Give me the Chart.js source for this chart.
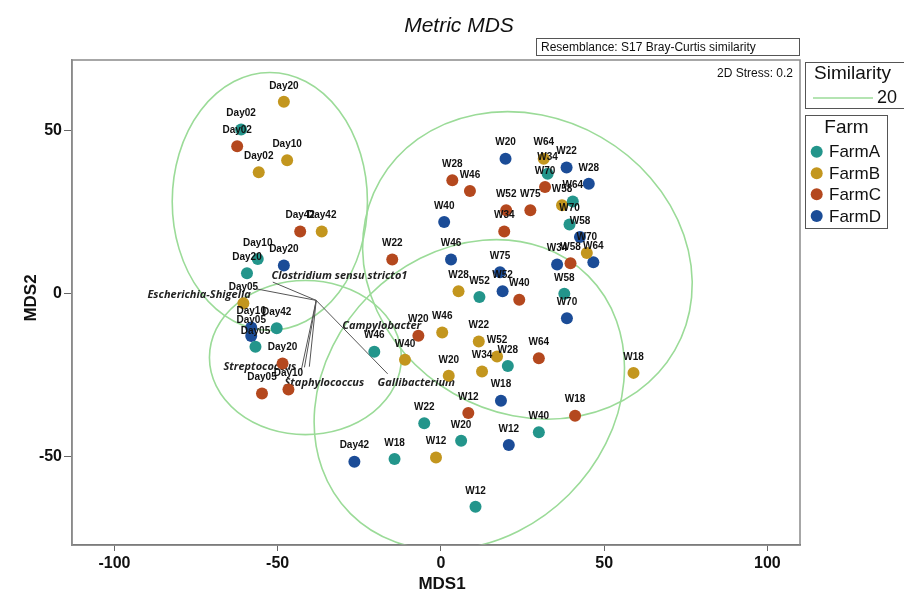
<!DOCTYPE html>
<html>
<head>
<meta charset="utf-8">
<script src="https://cdn.jsdelivr.net/npm/chart.js@4.4.1/dist/chart.umd.min.js"></script>
<style>
html, body { margin: 0; padding: 0; background: #fff; }
</style>
</head>
<body>
<canvas id="mdsChart" width="904" height="594"></canvas>
<script>
// MDS coordinates, one set of arrays per farm
const farmNames = ['FarmA', 'FarmB', 'FarmC', 'FarmD'];
const farmColors = ['#23958b', '#c3961e', '#b4481e', '#1b4c97'];

const farmA_x = [-61.2, -56.1, -59.4, -50.3, -56.8, -20.4, 11.8, 20.5, -5.1, 6.2, 30.0, -14.2, 10.6, 32.7, 40.4, 39.4, 37.8];
const farmA_y = [50.2, 10.6, 6.2, -10.6, -16.3, -17.8, -1.1, -22.2, -39.7, -45.1, -42.5, -50.7, -65.3, 36.7, 28.2, 21.1, -0.1];
const farmA_labels = ['Day02', 'Day10', 'Day20', 'Day42', 'Day05', 'W46', 'W52', 'W28', 'W22', 'W20', 'W40', 'W18', 'W12', 'W34', 'W64', 'W70', 'W58'];

const farmB_x = [-48.1, -47.1, -55.8, -36.5, -60.5, 31.5, 37.1, 44.7, 5.4, 0.4, -11.0, 11.6, 17.2, 12.6, 2.4, 59.0, -1.5];
const farmB_y = [58.7, 40.8, 37.1, 19.0, -3.0, 41.3, 27.0, 12.4, 0.7, -11.9, -20.3, -14.7, -19.3, -23.9, -25.2, -24.3, -50.2];
const farmB_labels = ['Day20', 'Day10', 'Day02', 'Day42', 'Day05', 'W64', 'W58', 'W70', 'W28', 'W46', 'W40', 'W22', 'W52', 'W34', 'W20', 'W18', 'W12'];

const farmC_x = [-62.4, -43.1, -48.5, -54.8, -46.7, -14.9, 3.5, 8.9, 20.0, 27.4, 19.4, 31.9, 39.7, 24.0, -6.9, 30.0, 8.4, 41.1];
const farmC_y = [45.1, 19.0, -21.4, -30.6, -29.4, 10.4, 34.7, 31.4, 25.5, 25.5, 19.0, 32.6, 9.3, -1.9, -12.9, -19.8, -36.6, -37.4];
const farmC_labels = ['Day02', 'Day42', 'Day20', 'Day05', 'Day10', 'W22', 'W28', 'W46', 'W52', 'W75', 'W34', 'W70', 'W58', 'W40', 'W20', 'W64', 'W12', 'W18'];

const farmD_x = [-48.1, -58.1, -58.1, -26.5, 19.8, 38.5, 45.3, 1.0, 3.1, 18.1, 18.9, 42.6, 46.7, 35.6, 38.6, 18.4, 20.8];
const farmD_y = [8.6, -10.4, -13.0, -51.5, 41.3, 38.6, 33.6, 21.9, 10.4, 6.5, 0.7, 17.3, 9.6, 8.9, -7.6, -32.8, -46.4];
const farmD_labels = ['Day20', 'Day10', 'Day05', 'Day42', 'W20', 'W22', 'W28', 'W40', 'W46', 'W75', 'W52', 'W58', 'W64', 'W34', 'W70', 'W18', 'W12'];

// 20% similarity contours (centre, semi axes in MDS units, tilt in degrees)
const contour_cx = [-52.4, -41.5, 26.5, 8.7];
const contour_cy = [28.2, -19.6, 8.6, -31.0];
const contour_a = [29.9, 29.4, 52.1, 51.5];
const contour_b = [39.5, 23.6, 45.3, 43.2];
const contour_tilt = [0, 0, 30, -45];

// taxa vectors
const vector_origin = [-38.2, -2.1];
const taxa_names = ['Clostridium sensu stricto1', 'Escherichia-Shigella', 'Campylobacter', 'Streptococcus', 'Staphylococcus', 'Gallibacterium'];
const taxa_end_x = [-51.5, -56.4, -40.3, -42.8, -41.8, -16.3];
const taxa_end_y = [3.5, 1.4, -22.4, -23.6, -22.6, -24.6];
const taxa_label_x = [-51.9, -89.9, -30.2, -66.6, -47.9, -19.4];
const taxa_label_y = [5.5, -0.3, -9.8, -22.4, -27.3, -27.3];

const x_ticks = [-100, -50, 0, 50, 100];
const y_ticks = [-50, 0, 50];

const farm_x = [farmA_x, farmB_x, farmC_x, farmD_x];
const farm_y = [farmA_y, farmB_y, farmC_y, farmD_y];
const farm_labels = [farmA_labels, farmB_labels, farmC_labels, farmD_labels];

const FONT = '"Liberation Sans", Arial, sans-serif';

const mdsDecor = {
    id: 'mdsDecor',
    beforeDatasetsDraw(chart) {
        const ctx = chart.ctx;
        const area = chart.chartArea;
        const xs = chart.scales.x;
        const ys = chart.scales.y;
        const unit = Math.abs(xs.getPixelForValue(1) - xs.getPixelForValue(0));

        ctx.save();
        ctx.beginPath();
        ctx.rect(area.left, area.top, area.right - area.left, area.bottom - area.top);
        ctx.clip();

        ctx.strokeStyle = '#9bdb98';
        ctx.lineWidth = 1.6;
        for (let i = 0; i < contour_cx.length; i++) {
            ctx.beginPath();
            ctx.ellipse(xs.getPixelForValue(contour_cx[i]), ys.getPixelForValue(contour_cy[i]),
                contour_a[i] * unit, contour_b[i] * unit, contour_tilt[i] * Math.PI / 180, 0, 2 * Math.PI);
            ctx.stroke();
        }

        ctx.strokeStyle = '#555';
        ctx.lineWidth = 1;
        const ox = xs.getPixelForValue(vector_origin[0]);
        const oy = ys.getPixelForValue(vector_origin[1]);
        for (let i = 0; i < taxa_names.length; i++) {
            ctx.beginPath();
            ctx.moveTo(ox, oy);
            ctx.lineTo(xs.getPixelForValue(taxa_end_x[i]), ys.getPixelForValue(taxa_end_y[i]));
            ctx.stroke();
        }

        ctx.fillStyle = '#222';
        ctx.font = 'italic bold 11px "Open Sans", sans-serif';
        ctx.textAlign = 'left';
        ctx.textBaseline = 'middle';
        for (let i = 0; i < taxa_names.length; i++) {
            ctx.fillText(taxa_names[i], xs.getPixelForValue(taxa_label_x[i]), ys.getPixelForValue(taxa_label_y[i]));
        }
        ctx.restore();
    },
    afterDatasetsDraw(chart) {
        const ctx = chart.ctx;
        const xs = chart.scales.x;
        const ys = chart.scales.y;
        ctx.save();
        ctx.fillStyle = '#111';
        ctx.font = 'bold 10px ' + FONT;
        ctx.textAlign = 'center';
        ctx.textBaseline = 'middle';
        for (let f = 0; f < farmNames.length; f++) {
            for (let i = 0; i < farm_labels[f].length; i++) {
                ctx.fillText(farm_labels[f][i], xs.getPixelForValue(farm_x[f][i]), ys.getPixelForValue(farm_y[f][i]) - 16);
            }
        }
        ctx.restore();
    },
    afterDraw(chart) {
        const ctx = chart.ctx;
        const area = chart.chartArea;
        ctx.save();

        // plot frame
        ctx.strokeStyle = '#8a8a8a';
        ctx.lineWidth = 1.5;
        ctx.strokeRect(area.left, area.top, area.right - area.left, area.bottom - area.top);

        // title
        ctx.fillStyle = '#111';
        ctx.font = 'italic 21px ' + FONT;
        ctx.textAlign = 'center';
        ctx.textBaseline = 'alphabetic';
        ctx.fillText('Metric MDS', 459, 32);

        // resemblance box
        ctx.strokeStyle = '#555';
        ctx.lineWidth = 1;
        ctx.strokeRect(536.5, 38.5, 263, 17);
        ctx.font = '12px ' + FONT;
        ctx.textAlign = 'left';
        ctx.textBaseline = 'middle';
        ctx.fillText('Resemblance: S17 Bray-Curtis similarity', 541, 47.5);

        // stress
        ctx.textAlign = 'right';
        ctx.fillText('2D Stress: 0.2', 793, 74);

        // axis titles
        ctx.font = 'bold 17px ' + FONT;
        ctx.textAlign = 'center';
        ctx.fillText('MDS1', 442, 584);
        ctx.save();
        ctx.translate(31, 298);
        ctx.rotate(-Math.PI / 2);
        ctx.fillText('MDS2', 0, 0);
        ctx.restore();

        // similarity legend
        ctx.strokeStyle = '#555';
        ctx.strokeRect(805.5, 62.5, 110, 46);
        ctx.font = '19px ' + FONT;
        ctx.textAlign = 'left';
        ctx.fillText('Similarity', 814, 74);
        ctx.strokeStyle = '#9bdb98';
        ctx.lineWidth = 1.6;
        ctx.beginPath();
        ctx.moveTo(813, 98);
        ctx.lineTo(873, 98);
        ctx.stroke();
        ctx.font = '18px ' + FONT;
        ctx.fillText('20', 877, 98);

        // farm legend
        ctx.strokeStyle = '#555';
        ctx.lineWidth = 1;
        ctx.strokeRect(805.5, 115.5, 82, 113);
        ctx.font = '19px ' + FONT;
        ctx.textAlign = 'center';
        ctx.fillText('Farm', 846.5, 128);
        const rows = [151.7, 173.3, 194.3, 216];
        ctx.font = '17px ' + FONT;
        ctx.textAlign = 'left';
        for (let f = 0; f < farmNames.length; f++) {
            ctx.fillStyle = farmColors[f];
            ctx.beginPath();
            ctx.arc(816.7, rows[f], 6, 0, 2 * Math.PI);
            ctx.fill();
            ctx.fillStyle = '#111';
            ctx.fillText(farmNames[f], 829, rows[f] + 1);
        }
        ctx.restore();
    }
};

function make_datasets() {
    let sets = [];
    for (let f = 0; f < farmNames.length; f++) {
        sets.push({
            label: farmNames[f],
            data: farm_x[f].map((x, i) => ({x: x, y: farm_y[f][i]})),
            backgroundColor: farmColors[f],
            borderColor: farmColors[f],
            borderWidth: 0,
            pointRadius: 6,
            pointHoverRadius: 6
        });
    }
    return sets;
}

window.addEventListener('load', function () {
    const ctx = document.getElementById('mdsChart').getContext('2d');
    new Chart(ctx, {
        type: 'scatter',
        data: {datasets: make_datasets()},
        options: {
            responsive: false,
            animation: false,
            layout: {padding: {top: 60, right: 104, left: 0, bottom: 0}},
            plugins: {
                legend: {display: false},
                tooltip: {enabled: false},
                title: {display: false}
            },
            scales: {
                x: {
                    type: 'linear',
                    min: -113,
                    max: 110,
                    afterBuildTicks: s => { s.ticks = x_ticks.map(v => ({value: v})); },
                    afterFit: s => { s.height = 49; },
                    grid: {display: true, drawOnChartArea: false, drawTicks: true, tickLength: 6, color: '#666'},
                    border: {display: true, color: '#555', width: 1.5},
                    ticks: {
                        color: '#111',
                        padding: 3,
                        maxRotation: 0,
                        font: {family: FONT, size: 16, weight: 'bold'}
                    }
                },
                y: {
                    type: 'linear',
                    min: -77,
                    max: 71.5,
                    afterBuildTicks: s => { s.ticks = y_ticks.map(v => ({value: v})); },
                    afterFit: s => { s.width = 72; },
                    grid: {display: true, drawOnChartArea: false, drawTicks: true, tickLength: 8, color: '#666'},
                    border: {display: true, color: '#8a8a8a', width: 1.5},
                    ticks: {
                        color: '#111',
                        padding: 2,
                        font: {family: FONT, size: 16, weight: 'bold'}
                    }
                }
            }
        },
        plugins: [mdsDecor]
    });
});
</script>
</body>
</html>
